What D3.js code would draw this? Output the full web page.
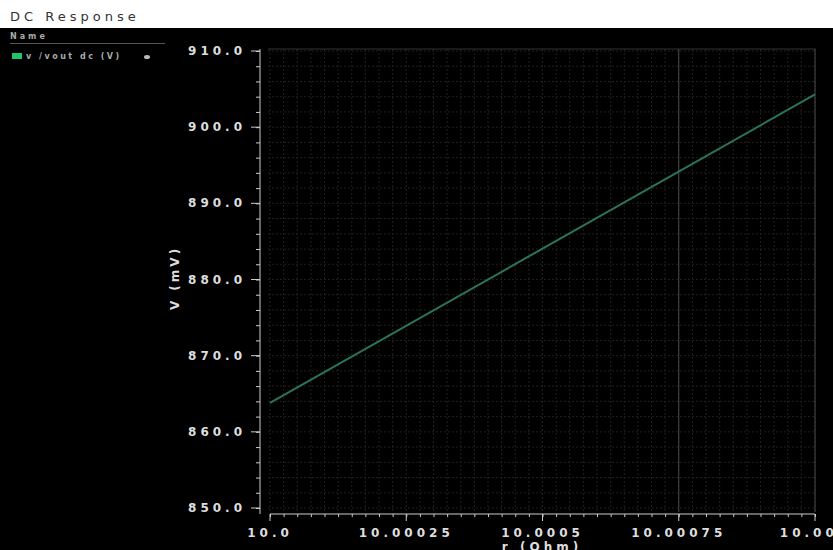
<!DOCTYPE html>
<html>
<head>
<meta charset="utf-8">
<script src="https://cdn.jsdelivr.net/npm/d3@7"></script>
<style>
  body { margin: 0; background: #fff; }
  svg { display: block; }
  text { font-family: "DejaVu Sans", sans-serif; }
</style>
</head>
<body>
<div id="chart"></div>
<script>
// data
const rValues = [10.0, 10.0005, 10.001]
const vValues = [863.8, 884.05, 904.3]
const xTicks = [10.0, 10.00025, 10.0005, 10.00075, 10.001]
const xTickLabels = ['10.0', '10.00025', '10.0005', '10.00075', '10.001']
const yTicks = [850, 860, 870, 880, 890, 900, 910]

const width = 833, height = 550
const plot = { left: 268, right: 816, top: 49, bottom: 512 }

const svg = d3.select('#chart').append('svg')
  .attr('width', width)
  .attr('height', height)

// title strip + dark background
svg.append('text')
  .attr('x', 10).attr('y', 21)
  .attr('fill', '#333')
  .attr('font-size', 13)
  .attr('letter-spacing', 4)
  .text('DC Response')

svg.append('rect')
  .attr('x', 0).attr('y', 28)
  .attr('width', width).attr('height', height - 28)
  .attr('fill', '#000')

// scales
const x = d3.scaleLinear().domain([10.0, 10.001]).range([270, 815])
const y = d3.scaleLinear().domain([850, 910]).range([508, 51])

// grid
const grid = svg.append('g')
const xMinor = d3.range(0, 41).map(i => 10.0 + i * 0.000025)
const yMinor = d3.range(850, 911, 2)

grid.selectAll('line.vx')
  .data(xMinor)
  .join('line')
  .attr('x1', d => x(d)).attr('x2', d => x(d))
  .attr('y1', plot.top).attr('y2', plot.bottom)
  .attr('stroke', '#202020')
  .attr('stroke-dasharray', '2,2')

grid.selectAll('line.hy')
  .data(yMinor)
  .join('line')
  .attr('y1', d => y(d)).attr('y2', d => y(d))
  .attr('x1', plot.left).attr('x2', plot.right)
  .attr('stroke', '#202020')
  .attr('stroke-dasharray', '2,2')

// brighter major line and frame
grid.append('line')
  .attr('x1', x(10.00075)).attr('x2', x(10.00075))
  .attr('y1', plot.top).attr('y2', plot.bottom)
  .attr('stroke', '#4a4a4a')
grid.append('line')
  .attr('x1', x(10.001)).attr('x2', x(10.001))
  .attr('y1', plot.top).attr('y2', plot.bottom)
  .attr('stroke', '#4a4a4a')
grid.append('line')
  .attr('x1', plot.left).attr('x2', plot.right)
  .attr('y1', plot.top).attr('y2', plot.top)
  .attr('stroke', '#333')

// y axis
const yAxisG = svg.append('g').attr('transform', 'translate(260,0)')
yAxisG.call(d3.axisLeft(y).tickValues(yMinor).tickSize(4).tickFormat(''))
yAxisG.call(g => g.select('.domain').remove())
yAxisG.selectAll('.tick line').attr('stroke', '#ccc')
yAxisG.append('line')
  .attr('y1', plot.top).attr('y2', 514)
  .attr('stroke', '#ccc')
yAxisG.selectAll('.major')
  .data(yTicks)
  .join('line')
  .attr('x1', -9).attr('x2', 0)
  .attr('y1', d => y(d)).attr('y2', d => y(d))
  .attr('stroke', '#ccc')
yAxisG.selectAll('.lbl')
  .data(yTicks)
  .join('text')
  .attr('x', -14)
  .attr('y', d => y(d) + 4)
  .attr('text-anchor', 'end')
  .attr('fill', '#ddd')
  .attr('font-size', 12)
  .attr('font-weight', 'bold')
  .attr('letter-spacing', 4)
  .text(d => d3.format('.1f')(d))

svg.append('text')
  .attr('transform', 'translate(179,278) rotate(-90)')
  .attr('text-anchor', 'middle')
  .attr('fill', '#ddd')
  .attr('font-size', 12)
  .attr('font-weight', 'bold')
  .attr('letter-spacing', 3)
  .text('V (mV)')

// x axis
const xAxisG = svg.append('g').attr('transform', 'translate(0,514)')
xAxisG.call(d3.axisBottom(x).tickValues(xMinor).tickSize(3).tickFormat(''))
xAxisG.select('.domain').remove()
xAxisG.selectAll('.tick line').attr('stroke', '#ccc')
xAxisG.append('line')
  .attr('x1', 270).attr('x2', 815)
  .attr('stroke', '#ccc')
xAxisG.selectAll('.major')
  .data(xTicks)
  .join('line')
  .attr('x1', d => x(d)).attr('x2', d => x(d))
  .attr('y1', 0).attr('y2', 7)
  .attr('stroke', '#ccc')
xAxisG.selectAll('.lbl')
  .data(xTicks)
  .join('text')
  .attr('x', d => x(d))
  .attr('y', 23)
  .attr('text-anchor', 'middle')
  .attr('fill', '#ddd')
  .attr('font-size', 12)
  .attr('font-weight', 'bold')
  .attr('letter-spacing', 4)
  .text((d, i) => xTickLabels[i])

svg.append('text')
  .attr('x', 542).attr('y', 551)
  .attr('text-anchor', 'middle')
  .attr('fill', '#ddd')
  .attr('font-size', 12)
  .attr('font-weight', 'bold')
  .attr('letter-spacing', 4)
  .text('r (Ohm)')

// data line
const line = d3.line()
  .x((d, i) => x(rValues[i]))
  .y(d => y(d))

svg.append('path')
  .datum(vValues)
  .attr('d', line)
  .attr('fill', 'none')
  .attr('stroke', '#2c735c')
  .attr('stroke-width', 2)

// legend panel
svg.append('text')
  .attr('x', 10).attr('y', 39)
  .attr('fill', '#aaa')
  .attr('font-size', 8)
  .attr('font-weight', 'bold')
  .attr('letter-spacing', 3)
  .text('Name')
svg.append('line')
  .attr('x1', 10).attr('x2', 165)
  .attr('y1', 43.5).attr('y2', 43.5)
  .attr('stroke', '#555')
svg.append('rect')
  .attr('x', 12).attr('y', 53)
  .attr('width', 10).attr('height', 6)
  .attr('fill', '#22c36a')
svg.append('text')
  .attr('x', 26).attr('y', 59)
  .attr('fill', '#aaa')
  .attr('font-size', 8)
  .attr('font-weight', 'bold')
  .attr('letter-spacing', 2.5)
  .text('v /vout dc (V)')
svg.append('ellipse')
  .attr('cx', 147).attr('cy', 57)
  .attr('rx', 3).attr('ry', 2)
  .attr('fill', '#bbb')
</script>
</body>
</html>
